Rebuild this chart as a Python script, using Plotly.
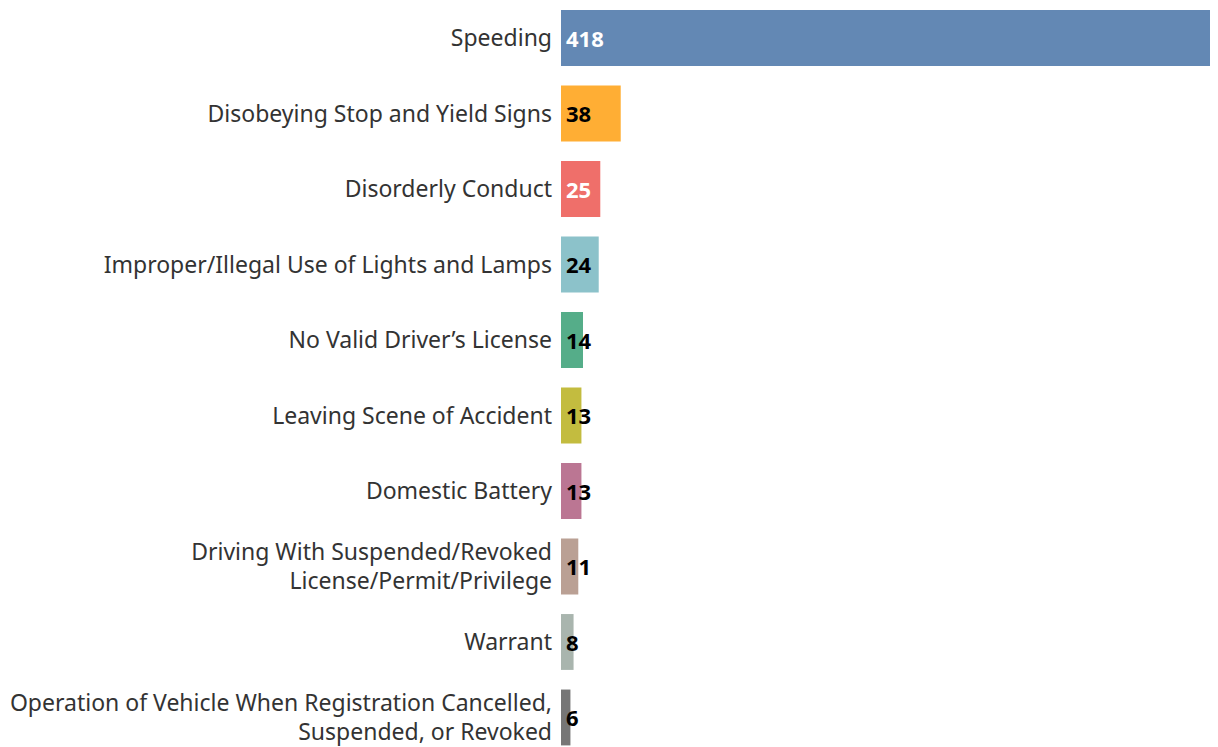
import plotly.graph_objects as go

categories = [
    "Speeding",
    "Disobeying Stop and Yield Signs",
    "Disorderly Conduct",
    "Improper/Illegal Use of Lights and Lamps",
    "No Valid Driver’s License",
    "Leaving Scene of Accident",
    "Domestic Battery",
    "Driving With Suspended/Revoked<br>License/Permit/Privilege",
    "Warrant",
    "Operation of Vehicle When Registration Cancelled,<br>Suspended, or Revoked",
]
values = [418, 38, 25, 24, 14, 13, 13, 11, 8, 6]
colors = ["#6388b4", "#ffae34", "#ef6f6a", "#8cc2ca", "#55ad89",
          "#c3bc3f", "#bb7693", "#baa094", "#a9b5ae", "#767676"]
label_colors = ["white", "black", "white", "black", "black",
                "black", "black", "black", "black", "black"]

FONT = "Noto Sans"

fig = go.Figure()
fig.add_trace(go.Bar(
    x=values, y=categories, orientation="h",
    marker=dict(color=colors, line=dict(width=0)),
    hoverinfo="x+y", showlegend=False,
))

for cat, val, lc in zip(categories, values, label_colors):
    fig.add_annotation(
        x=0, y=cat, text=f"<b>{val}</b>", showarrow=False,
        xanchor="left", yanchor="middle", xshift=3,
        font=dict(family=FONT, size=22, color=lc),
    )

n = len(categories)
# page body has an 8px default margin; compensate so plot sits like the reference
fig.update_layout(
    width=1210, height=739,
    margin=dict(l=553, r=0, t=0, b=0, pad=0),
    paper_bgcolor="white", plot_bgcolor="white",
    bargap=0.26,
    font=dict(family=FONT, size=23, color="#333333"),
    xaxis=dict(range=[0, 418], visible=False, showgrid=False, zeroline=False,
               fixedrange=True),
    yaxis=dict(
        type="category", categoryorder="array", categoryarray=categories,
        range=[n - 1 + 0.391, -0.397],
        showgrid=False, zeroline=False, showline=False,
        ticks="", ticklabelstandoff=8, automargin=False,
        tickfont=dict(family=FONT, size=23, color="#333333"),
    ),
)

fig.write_html("out.html", config={"responsive": False},
               default_width="1210px", default_height="739px")
